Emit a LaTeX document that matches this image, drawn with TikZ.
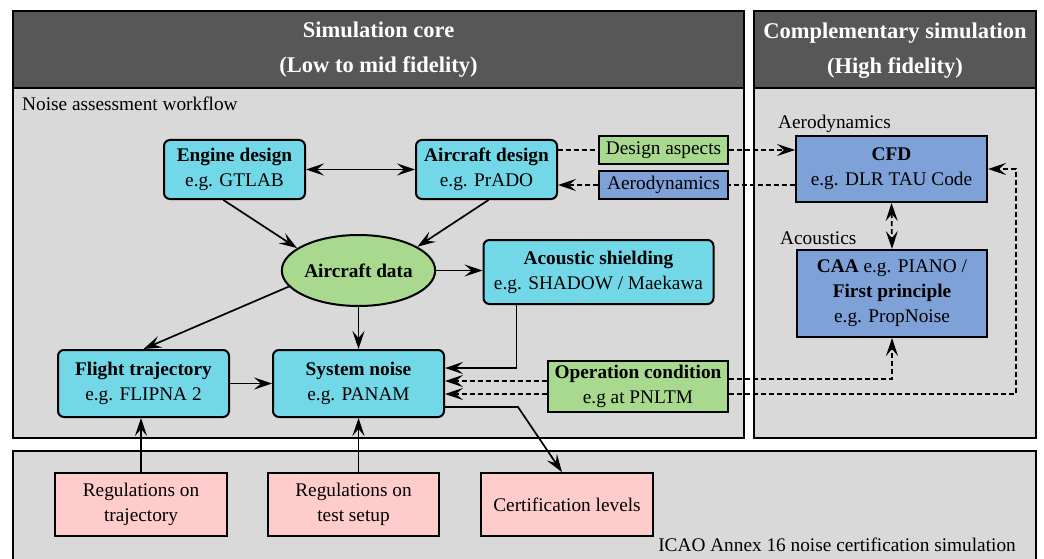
\documentclass[tikz,border=0pt]{standalone}
\usepackage{fontspec}
\setmainfont{Liberation Serif}
\usetikzlibrary{arrows.meta,calc,shapes.geometric}
\definecolor{hdr}{HTML}{575757}
\definecolor{pnl}{HTML}{D9D9D9}
\definecolor{cyanbox}{HTML}{72D8E8}
\definecolor{greenbox}{HTML}{A8D98E}
\definecolor{bluebox}{HTML}{7EA1D7}
\definecolor{pinkbox}{HTML}{FFCCCC}
\tikzset{
  >={Stealth[length=18pt,width=12pt,inset=7pt]},
  body/.style={font=\rmfamily\fontsize{19.3}{25}\selectfont},
  panel/.style={draw=black, line width=2pt, fill=pnl},
  header/.style={draw=black, line width=2pt, fill=hdr},
  hdrtext/.style={text=white, align=center, font=\rmfamily\fontsize{22.5}{35}\selectfont\bfseries},
  cbox/.style={body, draw=black, line width=2pt, fill=cyanbox, rounded corners=6pt, align=center, inner sep=0pt},
  gbox/.style={body, draw=black, line width=2pt, fill=greenbox, align=center, inner sep=0pt},
  bbox/.style={body, draw=black, line width=2pt, fill=bluebox, align=center, inner sep=0pt},
  pbox/.style={body, draw=black, line width=1.6pt, fill=pinkbox, align=center, inner sep=0pt},
  lbl/.style={body, inner sep=0pt},
  arr/.style={line width=1.7pt, ->},
  dline/.style={line width=1.7pt, dash pattern=on 5pt off 3pt},
  darr/.style={dline, ->},
}
\begin{document}
\begin{tikzpicture}[x=1pt,y=-1pt]
\useasboundingbox (0,0) rectangle (1044,559);
\clip (0,0) rectangle (1044,559);
% panels
\fill[white] (0,0) rectangle (1044,559);
\draw[panel] (13,11) rectangle (744,438);
\draw[header] (13,11) rectangle (744,88);
\draw[panel] (754,11) rectangle (1036,438);
\draw[header] (754,11) rectangle (1036,88);
\draw[panel, line width=1.4pt] (13,451) rectangle (1036,575);
\node[hdrtext] (hL) at (378.5,50) {Simulation core\\(Low to mid fidelity)};
\node[hdrtext] (hR) at (895,50.5) {Complementary simulation\\(High fidelity)};
\node[lbl, anchor=west] (nw) at (22,104) {Noise assessment workflow};
\node[lbl, anchor=east] (icao) at (1016,545) {ICAO Annex 16 noise certification simulation};
\node[lbl, anchor=west] (laero) at (778,124) {Aerodynamics};
\node[lbl, anchor=west] (lac) at (780,238) {Acoustics};
% nodes
\node[cbox, minimum width=141pt, minimum height=59pt] (eng) at (234.5,169.5) {\textbf{Engine design}\\e.g. GTLAB};
\node[cbox, minimum width=141pt, minimum height=59pt] (acd) at (486.5,169.5) {\textbf{Aircraft design}\\e.g. PrADO};
\node[body, ellipse, draw=black, line width=2pt, fill=greenbox, minimum width=151pt, minimum height=71pt, inner sep=0pt] (data) at (358.5,270.5) {\textbf{Aircraft data}};
\node[cbox, minimum width=230pt, minimum height=64pt] (shield) at (598.5,272) {\textbf{Acoustic shielding}\\e.g. SHADOW / Maekawa};
\node[cbox, minimum width=171pt, minimum height=67pt] (flight) at (143.5,383.5) {\textbf{Flight trajectory}\\e.g. FLIPNA 2};
\node[cbox, minimum width=171pt, minimum height=67pt] (sysn) at (358.5,383.5) {\textbf{System noise}\\e.g. PANAM};
\node[gbox, minimum width=129pt, minimum height=28pt] (da) at (663.5,150) {Design aspects};
\node[bbox, minimum width=129pt, minimum height=28pt] (aero) at (663.5,185) {Aerodynamics};
\node[bbox, minimum width=191pt, minimum height=66pt] (cfd) at (891.5,169) {\textbf{CFD}\\e.g. DLR TAU Code};
\node[bbox, minimum width=190pt, minimum height=87pt] (caa) at (892,293.5) {\textbf{CAA} e.g. PIANO /\\\textbf{First principle}\\e.g. PropNoise};
\node[gbox, minimum width=180pt, minimum height=51pt] (opc) at (638,386.5) {\textbf{Operation condition}\\e.g at PNLTM};
\node[pbox, minimum width=172pt, minimum height=63pt] (reg1) at (141,504.5) {Regulations on\\trajectory};
\node[pbox, minimum width=171pt, minimum height=63pt] (reg2) at (353.5,504.5) {Regulations on\\test setup};
\node[pbox, minimum width=172pt, minimum height=63pt] (cert) at (567,504.5) {Certification levels};
% solid connectors
\draw[arr, <->] (eng.east) -- (acd.west);
\draw[arr] (eng.250) -- (data.160);
\draw[arr] ($(acd.south)+(2,0)$) -- (data.22);
\draw[arr] (data.east) -- (data.east -| shield.west);
\draw[arr] (data.south) -- (sysn.north);
\draw[arr] (data.193) -- (flight.north);
\draw[arr] (flight.east) -- (sysn.west);
\coordinate (s1) at ($(sysn.east)+(0,-15.5)$);
\draw[arr] ($(shield.south west)+(34,0)$) |- (s1);
\coordinate (c1) at ($(sysn.east)+(0,23.5)$);
\draw[arr] (c1) -- ++(73,0) -- ($(cert.north)+(-5,0)$);
\draw[arr] (reg1.north) -- (reg1.north |- flight.south);
\draw[arr] (reg2.north -| sysn.south) -- (sysn.south);
% dashed connectors
\draw[dline] (acd.east |- da.west) -- (da.west);
\draw[darr] (da.east) -- (da.east -| cfd.west);
\draw[dline] (cfd.west |- aero.east) -- (aero.east);
\draw[darr] (aero.west) -- (aero.west -| acd.east);
\draw[darr, <->] (cfd.south) -- (caa.north);
\coordinate (o1) at ($(opc.west)+(0,-5.5)$);
\coordinate (o2) at ($(opc.west)+(0,7.5)$);
\draw[darr] (o1) -- (o1 -| sysn.east);
\draw[darr] (o2) -- (o2 -| sysn.east);
\coordinate (o3) at ($(opc.east)+(0,-7.5)$);
\coordinate (o4) at ($(opc.east)+(0,7.5)$);
\draw[darr] (o3) -| (caa.south);
\coordinate (r1) at ($(cfd.east)+(28,0)$);
\draw[darr] (o4) -| (r1) -- (cfd.east);
\end{tikzpicture}
\end{document}
